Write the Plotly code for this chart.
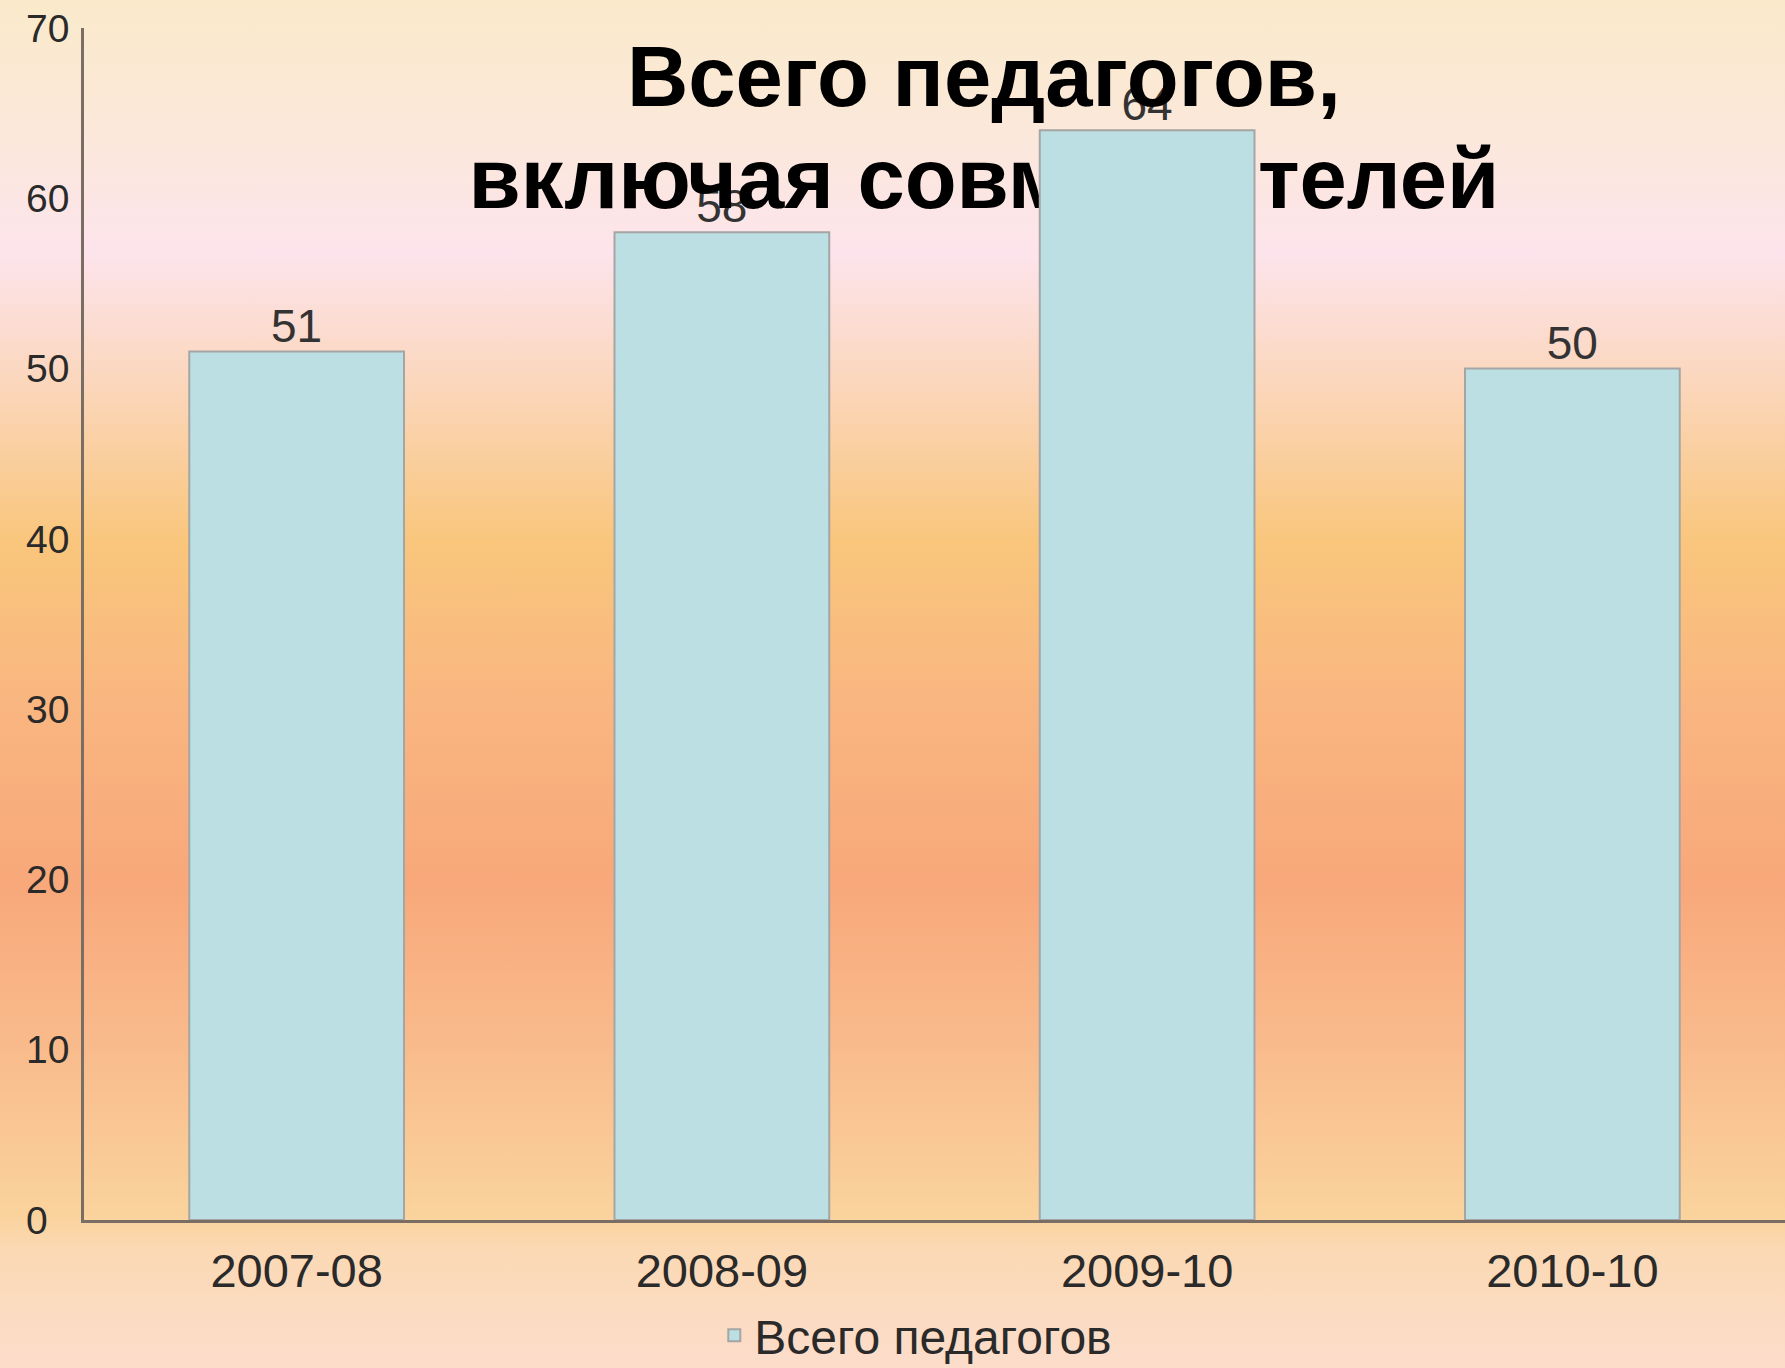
import base64
import plotly.graph_objects as go

# ---------------- data ----------------
categories = ["2007-08", "2008-09", "2009-10", "2010-10"]
teachers_total = [51, 58, 64, 50]
series_name = "Всего педагогов"
y_tick_values = [0, 10, 20, 30, 40, 50, 60, 70]
y_tick_labels = ["0\u00a0\u00a0", "10", "20", "30", "40", "50", "60", "70"]
title_lines = ["Всего педагогов,", "включая совместителей"]

# ---------------- layout geometry ----------------
W, H = 1785, 1368
L, R, T, B = 84, 0, 28, 148
PW, PH = W - L - R, H - T - B
FONT = "Liberation Sans, Arial, sans-serif"

# background gradient (vertical) as an SVG image
grad_stops = [
    (0.000, "#FAEACB"),
    (0.096, "#FBE8DA"),
    (0.185, "#FDE4EC"),
    (0.268, "#FBD8C2"),
    (0.396, "#F9C67C"),
    (0.512, "#F9B680"),
    (0.645, "#F8A87A"),
    (0.767, "#F9BB8C"),
    (0.888, "#FAD39C"),
    (0.915, "#FBD9B5"),
    (1.000, "#FCDDCB"),
]
stops = "".join(f'<stop offset="{o}" stop-color="{c}"/>' for o, c in grad_stops)
svg = (f'<svg xmlns="http://www.w3.org/2000/svg" width="{W}" height="{H}" '
       f'viewBox="0 0 {W} {H}" preserveAspectRatio="none"><defs>'
       f'<linearGradient id="g" x1="0" y1="0" x2="0" y2="1">{stops}</linearGradient>'
       f'</defs><rect width="{W}" height="{H}" fill="url(#g)"/></svg>')
bg_src = "data:image/svg+xml;base64," + base64.b64encode(svg.encode("utf-8")).decode("ascii")

fig = go.Figure()
fig.add_trace(go.Bar(
    x=categories,
    y=teachers_total,
    name=series_name,
    showlegend=True,
    marker=dict(color="#BBDFE2", line=dict(color="#A5A5A5", width=2)),
    hoverinfo="x+y",
))

shapes = []
# value labels, drawn beneath the title and the bars
for i, v in enumerate(teachers_total):
    shapes.append(dict(
        type="line", xref="x", yref="y",
        x0=i - 0.25, x1=i + 0.25, y0=v, y1=v,
        line=dict(color="rgba(0,0,0,0)", width=0),
        layer="below",
        label=dict(text=str(v), textposition="middle", yanchor="bottom",
                   padding=4, font=dict(family=FONT, size=46, color="#333333")),
    ))
# chart title (one shape per line), drawn beneath the bars
title_x = 1.616
title_line_y = [67.6, 61.65]
for txt, ty in zip(title_lines, title_line_y):
    shapes.append(dict(
        type="line", xref="x", yref="y",
        x0=title_x - 1.5, x1=title_x + 1.5, y0=ty, y1=ty,
        line=dict(color="rgba(0,0,0,0)", width=0),
        layer="between",
        label=dict(text=f"<b>{txt}</b>", textposition="middle", yanchor="middle",
                   padding=0, font=dict(family=FONT, size=85, color="#000000")),
    ))

fig.update_layout(
    width=W, height=H,
    margin=dict(l=L, r=R, t=T, b=B, pad=0, autoexpand=False),
    paper_bgcolor="#FCE6D2",
    plot_bgcolor="rgba(0,0,0,0)",
    bargap=0.495,
    font=dict(family=FONT, color="#2a2a2a"),
    shapes=shapes,
    images=[dict(source=bg_src, xref="paper", yref="paper",
                 x=-L / PW, y=1 + T / PH, sizex=W / PW, sizey=H / PH,
                 xanchor="left", yanchor="top", sizing="stretch", layer="below")],
    showlegend=True,
    legend=dict(orientation="h", x=0.489, xanchor="center", y=-0.097, yanchor="middle",
                font=dict(family=FONT, size=48, color="#2a2a2a"),
                bgcolor="rgba(0,0,0,0)", itemwidth=30, borderwidth=0),
    xaxis=dict(type="category", range=[-0.5, 3.5], showline=True, linecolor="#7a6e64",
               linewidth=2.5, ticks="", showgrid=False, zeroline=False,
               tickfont=dict(family=FONT, size=47, color="#2a2a2a"),
               ticklabelstandoff=8, fixedrange=True),
    yaxis=dict(range=[0, 70], tickmode="array", tickvals=y_tick_values, ticktext=y_tick_labels,
               showline=True, linecolor="#7a6e64", linewidth=2.5, ticks="",
               showgrid=False, zeroline=False,
               tickfont=dict(family=FONT, size=39, color="#2a2a2a"),
               ticklabelstandoff=4, fixedrange=True),
)

fig.write_html("out.html", config={"displayModeBar": False},
               post_script="document.body.style.margin='0px';document.body.style.overflow='hidden';")
